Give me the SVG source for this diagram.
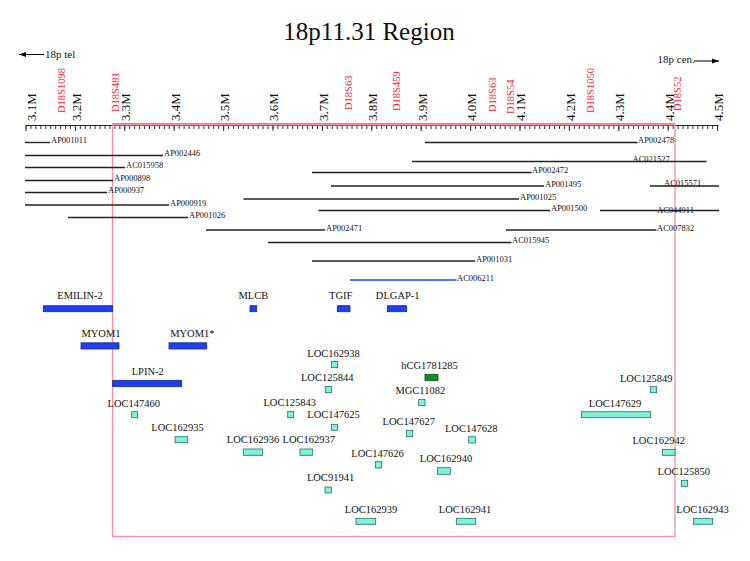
<svg xmlns="http://www.w3.org/2000/svg" width="750" height="561" viewBox="0 0 750 561">
<defs>
<style>
text{font-family:"Liberation Serif","Times New Roman",serif;fill:#111}
.title{font-size:25px}
.ax{font-size:13px}
.mk{font-size:10.5px;fill:#ee2244}
.cl{font-size:8.5px}
.gl{font-size:10.5px;text-anchor:middle}
.clone{stroke:#222;stroke-width:1.4;fill:none}
.blueclone{stroke:#2244ee;stroke-width:1.3;fill:none}
.gb{fill:#1f3ff0;stroke:#1a2a80;stroke-width:0.8}
.gc{fill:#7ff3da;stroke:#2a6a66;stroke-width:0.8}
.gg{fill:#1a8c1a;stroke:#0a4a0a;stroke-width:0.8}
</style>
<marker id="ah" viewBox="0 0 10 10" refX="10" refY="5" markerWidth="7" markerHeight="7" orient="auto-start-reverse" markerUnits="userSpaceOnUse">
<path d="M0,1.5 L10,5 L0,8.5 z" fill="#000"/>
</marker>
</defs>
<rect width="750" height="561" fill="#fff"/>
<text class="title" x="369" y="40" text-anchor="middle">18p11.31 Region</text>

<g id="orientation">
<line x1="44" y1="54.5" x2="19" y2="54.5" stroke="#000" stroke-width="1" marker-end="url(#ah)"/>
<text x="45" y="58" style="font-size:11px">18p tel</text>
<text x="657.5" y="62.5" style="font-size:11px">18p cen.</text>
<line x1="694" y1="61" x2="719" y2="61" stroke="#000" stroke-width="1" marker-end="url(#ah)"/>
</g>

<g id="axis">
<line x1="25.5" y1="125.5" x2="718.5" y2="125.5" stroke="#222" stroke-width="1"/>
<line x1="25.5" y1="127.5" x2="718.5" y2="127.5" stroke="#333" stroke-width="3" stroke-dasharray="1 3.94"/>
<line x1="25.5" y1="128.5" x2="718.5" y2="128.5" stroke="#333" stroke-width="5" stroke-dasharray="1 48.4"/>
<line x1="112.5" y1="124.5" x2="675" y2="124.5" stroke="#e8485e" stroke-width="2.5"/>
<g class="ax">
<text transform="translate(36,121) rotate(-90)">3.1M</text>
<text transform="translate(80.8,121) rotate(-90)">3.2M</text>
<text transform="translate(130.2,121) rotate(-90)">3.3M</text>
<text transform="translate(179.6,121) rotate(-90)">3.4M</text>
<text transform="translate(229,121) rotate(-90)">3.5M</text>
<text transform="translate(278.4,121) rotate(-90)">3.6M</text>
<text transform="translate(327.8,121) rotate(-90)">3.7M</text>
<text transform="translate(377.2,121) rotate(-90)">3.8M</text>
<text transform="translate(426.6,121) rotate(-90)">3.9M</text>
<text transform="translate(476,121) rotate(-90)">4.0M</text>
<text transform="translate(525.4,121) rotate(-90)">4.1M</text>
<text transform="translate(574.8,121) rotate(-90)">4.2M</text>
<text transform="translate(624.2,121) rotate(-90)">4.3M</text>
<text transform="translate(673.6,121) rotate(-90)">4.4M</text>
<text transform="translate(723,121) rotate(-90)">4.5M</text>
</g>
<g class="mk">
<text class="mk" transform="translate(65,113) rotate(-90)">D18S1098</text>
<text class="mk" transform="translate(119,112) rotate(-90)">D18S481</text>
<text class="mk" transform="translate(352,110) rotate(-90)">D18S63</text>
<text class="mk" transform="translate(400,111) rotate(-90)">D18S459</text>
<text class="mk" transform="translate(495.5,112) rotate(-90)">D18S63</text>
<text class="mk" transform="translate(514,114) rotate(-90)">D18S54</text>
<text class="mk" transform="translate(594,113) rotate(-90)">D18S1050</text>
<text class="mk" transform="translate(681,111) rotate(-90)">D18S52</text>
</g>
</g>

<rect id="region" x="112.5" y="124.5" width="562.5" height="412" fill="none" stroke="#ff8ca5" stroke-width="1.3"/>

<g id="clones">
<line class="clone" x1="25" y1="142.5" x2="50" y2="142.5"/><text class="cl" x="51" y="143">AP001011</text>
<line class="clone" x1="25" y1="155.5" x2="163" y2="155.5"/><text class="cl" x="164" y="156">AP002446</text>
<line class="clone" x1="25" y1="167.5" x2="125" y2="167.5"/><text class="cl" x="126" y="168">AC015958</text>
<line class="clone" x1="25" y1="180.5" x2="113" y2="180.5"/><text class="cl" x="114" y="181">AP000898</text>
<line class="clone" x1="25" y1="192.5" x2="107" y2="192.5"/><text class="cl" x="108" y="193">AP000937</text>
<line class="clone" x1="25" y1="205" x2="169" y2="205"/><text class="cl" x="170" y="205.5">AP000919</text>
<line class="clone" x1="68" y1="217.5" x2="188" y2="217.5"/><text class="cl" x="189" y="218">AP001026</text>
<line class="clone" x1="206" y1="230" x2="325" y2="230"/><text class="cl" x="326" y="230.5">AP002471</text>
<line class="clone" x1="268" y1="242.5" x2="511.5" y2="242.5"/><text class="cl" x="512" y="243">AC015945</text>
<line class="clone" x1="312" y1="261" x2="475" y2="261"/><text class="cl" x="476" y="261.5">AP001031</text>
<line class="blueclone" x1="350" y1="280" x2="456.5" y2="280"/><text class="cl" x="457" y="280.5">AC006211</text>
<line class="clone" x1="312" y1="172.5" x2="531.5" y2="172.5"/><text class="cl" x="532" y="173">AP002472</text>
<line class="clone" x1="331" y1="186" x2="544" y2="186"/><text class="cl" x="545" y="186.5">AP001495</text>
<line class="clone" x1="243.5" y1="199" x2="519" y2="199"/><text class="cl" x="520" y="199.5">AP001025</text>
<line class="clone" x1="318.5" y1="210.5" x2="550" y2="210.5"/><text class="cl" x="551" y="211">AP001500</text>
<line class="clone" x1="425" y1="142.5" x2="637.5" y2="142.5"/><text class="cl" x="638" y="143">AP002478</text>
<line class="clone" x1="412" y1="161.5" x2="706.5" y2="161.5"/><text class="cl" x="632.5" y="161.5">AC021527</text>
<line class="clone" x1="650" y1="186" x2="719" y2="186"/><text class="cl" x="664" y="186">AC015571</text>
<line class="clone" x1="600" y1="210.5" x2="719" y2="210.5"/><text class="cl" x="657" y="212.5">AC044911</text>
<line class="clone" x1="506" y1="230" x2="656.5" y2="230"/><text class="cl" x="657" y="230.5">AC007832</text>
</g>

<g id="EMILIN-2"><text class="gl" x="80" y="298.5">EMILIN-2</text><rect class="gb" x="43.3" y="305.7" width="69.4" height="6"/></g>
<g id="MLCB"><text class="gl" x="253.3" y="298.5">MLCB</text><rect class="gb" x="250" y="305.7" width="6.7" height="6"/></g>
<g id="TGIF"><text class="gl" x="340.7" y="298.5">TGIF</text><rect class="gb" x="337.3" y="305.7" width="12.7" height="6"/></g>
<g id="DLGAP-1"><text class="gl" x="397.7" y="298.5">DLGAP-1</text><rect class="gb" x="387.3" y="305.7" width="19.4" height="6"/></g>
<g id="MYOM1"><text class="gl" x="101" y="337">MYOM1</text><rect class="gb" x="81" y="342.8" width="38" height="6.2"/></g>
<g id="MYOM1star"><text class="gl" x="192.3" y="337">MYOM1*</text><rect class="gb" x="169" y="342.8" width="37.7" height="6.2"/></g>
<g id="LPIN-2"><text class="gl" x="147.7" y="374.5">LPIN-2</text><rect class="gb" x="112.7" y="380.3" width="69" height="6.4"/></g>

<g id="LOC162938"><text class="gl" x="333.5" y="356.7">LOC162938</text><rect class="gc" x="331.3" y="361.5" width="6.4" height="6.2"/></g>
<g id="LOC125844"><text class="gl" x="327.2" y="381.3">LOC125844</text><rect class="gc" x="325.3" y="386.6" width="6.4" height="6.1"/></g>
<g id="LOC125843"><text class="gl" x="289.7" y="406">LOC125843</text><rect class="gc" x="287.7" y="411.4" width="6" height="6.3"/></g>
<g id="LOC147625"><text class="gl" x="333.5" y="418.3">LOC147625</text><rect class="gc" x="331.3" y="424.3" width="6.4" height="6"/></g>
<g id="LOC162936"><text class="gl" x="253" y="443.3">LOC162936</text><rect class="gc" x="243.3" y="449" width="19.4" height="6.3"/></g>
<g id="LOC162937"><text class="gl" x="308.8" y="443.3">LOC162937</text><rect class="gc" x="300" y="449" width="12.7" height="6.3"/></g>
<g id="LOC91941"><text class="gl" x="330.5" y="481">LOC91941</text><rect class="gc" x="325" y="487" width="6.3" height="6"/></g>
<g id="LOC162939"><text class="gl" x="371" y="512.7">LOC162939</text><rect class="gc" x="356" y="518.3" width="19.7" height="6"/></g>
<g id="LOC147626"><text class="gl" x="377.5" y="456.7">LOC147626</text><rect class="gc" x="375.3" y="461.7" width="6.4" height="6.3"/></g>
<g id="LOC147627"><text class="gl" x="408.8" y="425">LOC147627</text><rect class="gc" x="406.3" y="430.3" width="6.4" height="6.4"/></g>
<g id="hCG1781285"><text class="gl" x="429.5" y="369.3">hCG1781285</text><rect class="gg" x="425" y="374.3" width="13" height="6.4"/></g>
<g id="MGC11082"><text class="gl" x="420.3" y="394">MGC11082</text><rect class="gc" x="418.7" y="399.3" width="6.3" height="6.4"/></g>
<g id="LOC147628"><text class="gl" x="471.2" y="431.7">LOC147628</text><rect class="gc" x="468.7" y="436.7" width="6.6" height="6.3"/></g>
<g id="LOC162940"><text class="gl" x="446" y="462.3">LOC162940</text><rect class="gc" x="437.3" y="467.7" width="13" height="6.6"/></g>
<g id="LOC162941"><text class="gl" x="465" y="512.7">LOC162941</text><rect class="gc" x="456.3" y="518.3" width="19.4" height="6"/></g>
<g id="LOC147460"><text class="gl" x="133.8" y="406.7">LOC147460</text><rect class="gc" x="131.7" y="411.7" width="6" height="6"/></g>
<g id="LOC162935"><text class="gl" x="177.5" y="431">LOC162935</text><rect class="gc" x="175" y="436.7" width="12.7" height="6"/></g>
<g id="LOC125849"><text class="gl" x="646.2" y="381.7">LOC125849</text><rect class="gc" x="650.3" y="386.7" width="6.4" height="6"/></g>
<g id="LOC147629"><text class="gl" x="615" y="406.7">LOC147629</text><rect class="gc" x="581.3" y="411.7" width="69.4" height="6"/></g>
<g id="LOC162942"><text class="gl" x="658.7" y="444">LOC162942</text><rect class="gc" x="662.3" y="449.3" width="12.7" height="6"/></g>
<g id="LOC125850"><text class="gl" x="683.8" y="475">LOC125850</text><rect class="gc" x="681.3" y="480.3" width="6.4" height="6"/></g>
<g id="LOC162943"><text class="gl" x="702.5" y="512.7">LOC162943</text><rect class="gc" x="693.3" y="518.3" width="19.4" height="6"/></g>

<g id="connectors"></g>
</svg>
